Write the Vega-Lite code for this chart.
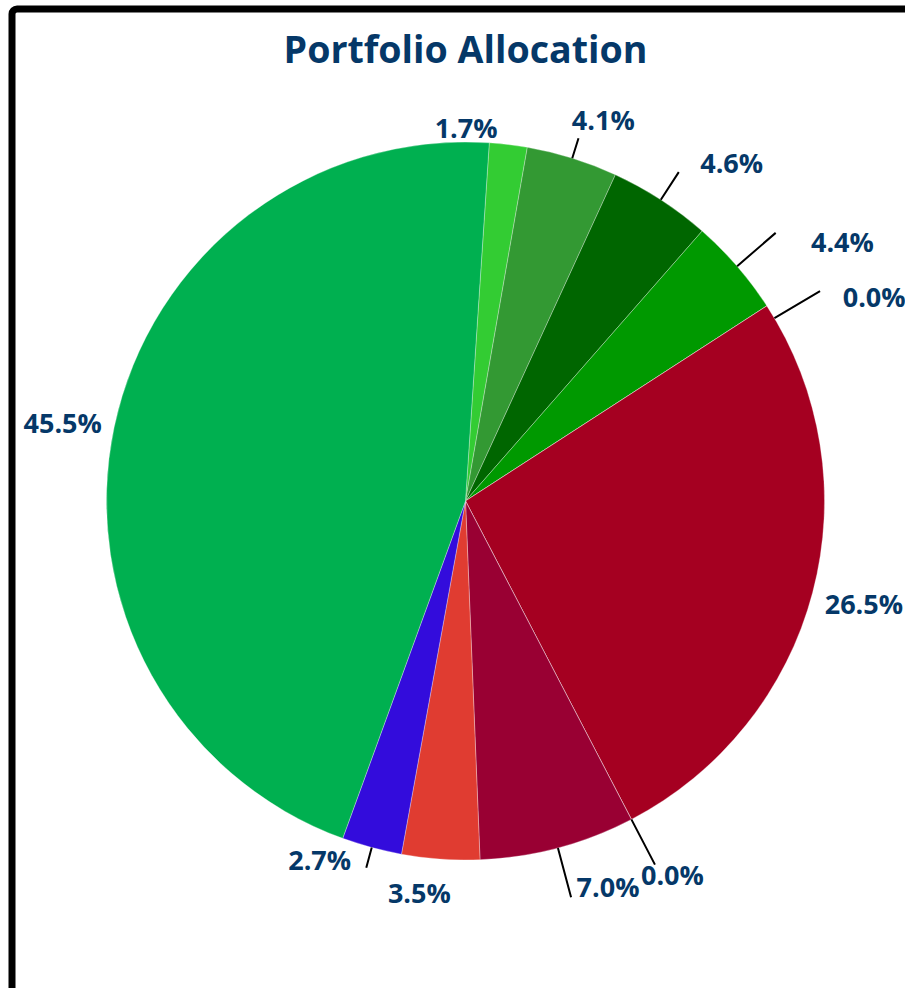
{
  "$schema": "https://vega.github.io/schema/vega-lite/v6.json",
  "width": 907,
  "height": 984,
  "autosize": {"type": "none"},
  "padding": {"left": 12, "top": 9, "right": 0, "bottom": 0},
  "background": "white",
  "view": {"stroke": "black", "strokeWidth": 7, "cornerRadius": 5},
  "title": {
    "text": "Portfolio Allocation",
    "font": "Open Sans",
    "fontSize": 37.6,
    "fontWeight": "bold",
    "color": "#053868",
    "anchor": "middle",
    "frame": "group",
    "baseline": "alphabetic",
    "offset": -92
  },
  "data": {
    "values": [
      {"id": 1, "slice": "Slice 1", "value": 0.017},
      {"id": 2, "slice": "Slice 2", "value": 0.041},
      {"id": 3, "slice": "Slice 3", "value": 0.046},
      {"id": 4, "slice": "Slice 4", "value": 0.044},
      {"id": 5, "slice": "Slice 5", "value": 0.0},
      {"id": 6, "slice": "Slice 6", "value": 0.265},
      {"id": 7, "slice": "Slice 7", "value": 0.0},
      {"id": 8, "slice": "Slice 8", "value": 0.070},
      {"id": 9, "slice": "Slice 9", "value": 0.035},
      {"id": 10, "slice": "Slice 10", "value": 0.027},
      {"id": 11, "slice": "Slice 11", "value": 0.455}
    ]
  },
  "encoding": {
    "theta": {"field": "value", "type": "quantitative", "stack": true, "scale": {"range": [0.0663, 6.3495]}},
    "order": {"field": "id", "type": "quantitative"}
  },
  "layer": [
    {
      "mark": {"type": "arc", "radius": 359, "stroke": "white", "strokeWidth": 0.6, "strokeOpacity": 0.5},
      "encoding": {
        "color": {
          "field": "slice",
          "type": "nominal",
          "legend": null,
          "scale": {
            "domain": ["Slice 1", "Slice 2", "Slice 3", "Slice 4", "Slice 5", "Slice 6", "Slice 7", "Slice 8", "Slice 9", "Slice 10", "Slice 11"],
            "range": ["#33CC33", "#339933", "#006600", "#009900", "#00CC66", "#A50021", "#CC0000", "#990033", "#E03C31", "#330CDC", "#00B050"]
          }
        }
      }
    },
    {
      "mark": {"type": "arc", "radius": 380, "radius2": 359, "padAngle": 3.2, "filled": false, "stroke": "black", "strokeWidth": 2},
      "encoding": {"opacity": {"condition": {"test": "datum.id == 2 || datum.id == 10", "value": 1}, "value": 0}}
    },
    {
      "mark": {"type": "arc", "radius": 392, "radius2": 359, "padAngle": 3.2, "filled": false, "stroke": "black", "strokeWidth": 2},
      "encoding": {"opacity": {"condition": {"test": "datum.id == 3", "value": 1}, "value": 0}}
    },
    {
      "mark": {"type": "arc", "radius": 410, "radius2": 359, "padAngle": 3.2, "filled": false, "stroke": "black", "strokeWidth": 2},
      "encoding": {"opacity": {"condition": {"test": "datum.id == 4 || datum.id == 7 || datum.id == 8", "value": 1}, "value": 0}}
    },
    {
      "mark": {"type": "arc", "radius": 412, "radius2": 359, "padAngle": 3.2, "thetaOffset": 0.04, "theta2Offset": 0.04, "filled": false, "stroke": "black", "strokeWidth": 2},
      "encoding": {"opacity": {"condition": {"test": "datum.id == 5", "value": 1}, "value": 0}}
    },
    {
      "mark": {"type": "text", "radius": 412, "font": "Open Sans", "fontSize": 27, "fontWeight": "bold", "fill": "#053868"},
      "encoding": {
        "text": {"field": "value", "type": "quantitative", "format": ".1%"},
        "opacity": {"condition": {"test": "datum.id == 6", "value": 1}, "value": 0}
      }
    },
    {
      "mark": {"type": "text", "radius": 410, "thetaOffset": -0.02, "font": "Open Sans", "fontSize": 27, "fontWeight": "bold", "fill": "#053868"},
      "encoding": {
        "text": {"field": "value", "type": "quantitative", "format": ".1%"},
        "opacity": {"condition": {"test": "datum.id == 11", "value": 1}, "value": 0}
      }
    },
    {
      "mark": {"type": "text", "radius": 371, "thetaOffset": -0.118, "font": "Open Sans", "fontSize": 27, "fontWeight": "bold", "fill": "#053868"},
      "encoding": {
        "text": {"field": "value", "type": "quantitative", "format": ".1%"},
        "opacity": {"condition": {"test": "datum.id == 1", "value": 1}, "value": 0}
      }
    },
    {
      "mark": {"type": "text", "radius": 403, "thetaOffset": 0.047, "font": "Open Sans", "fontSize": 27, "fontWeight": "bold", "fill": "#053868"},
      "encoding": {
        "text": {"field": "value", "type": "quantitative", "format": ".1%"},
        "opacity": {"condition": {"test": "datum.id == 2", "value": 1}, "value": 0}
      }
    },
    {
      "mark": {"type": "text", "radius": 397, "thetaOffset": 0.047, "font": "Open Sans", "fontSize": 27, "fontWeight": "bold", "fill": "#053868"},
      "encoding": {
        "text": {"field": "value", "type": "quantitative", "format": ".1%"},
        "opacity": {"condition": {"test": "datum.id == 9", "value": 1}, "value": 0}
      }
    },
    {
      "mark": {"type": "text", "radius": 429, "thetaOffset": 0.094, "font": "Open Sans", "fontSize": 27, "fontWeight": "bold", "fill": "#053868"},
      "encoding": {
        "text": {"field": "value", "type": "quantitative", "format": ".1%"},
        "opacity": {"condition": {"test": "datum.id == 3", "value": 1}, "value": 0}
      }
    },
    {
      "mark": {"type": "text", "radius": 456, "thetaOffset": 0.115, "font": "Open Sans", "fontSize": 27, "fontWeight": "bold", "fill": "#053868"},
      "encoding": {
        "text": {"field": "value", "type": "quantitative", "format": ".1%"},
        "opacity": {"condition": {"test": "datum.id == 4 || datum.id == 5", "value": 1}, "value": 0}
      }
    },
    {
      "mark": {"type": "text", "radius": 429, "thetaOffset": -0.023, "font": "Open Sans", "fontSize": 27, "fontWeight": "bold", "fill": "#053868"},
      "encoding": {
        "text": {"field": "value", "type": "quantitative", "format": ".1%"},
        "opacity": {"condition": {"test": "datum.id == 7", "value": 1}, "value": 0}
      }
    },
    {
      "mark": {"type": "text", "radius": 413, "thetaOffset": -0.092, "font": "Open Sans", "fontSize": 27, "fontWeight": "bold", "fill": "#053868"},
      "encoding": {
        "text": {"field": "value", "type": "quantitative", "format": ".1%"},
        "opacity": {"condition": {"test": "datum.id == 8", "value": 1}, "value": 0}
      }
    },
    {
      "mark": {"type": "text", "radius": 389, "thetaOffset": 0.12, "font": "Open Sans", "fontSize": 27, "fontWeight": "bold", "fill": "#053868"},
      "encoding": {
        "text": {"field": "value", "type": "quantitative", "format": ".1%"},
        "opacity": {"condition": {"test": "datum.id == 10", "value": 1}, "value": 0}
      }
    }
  ]
}
